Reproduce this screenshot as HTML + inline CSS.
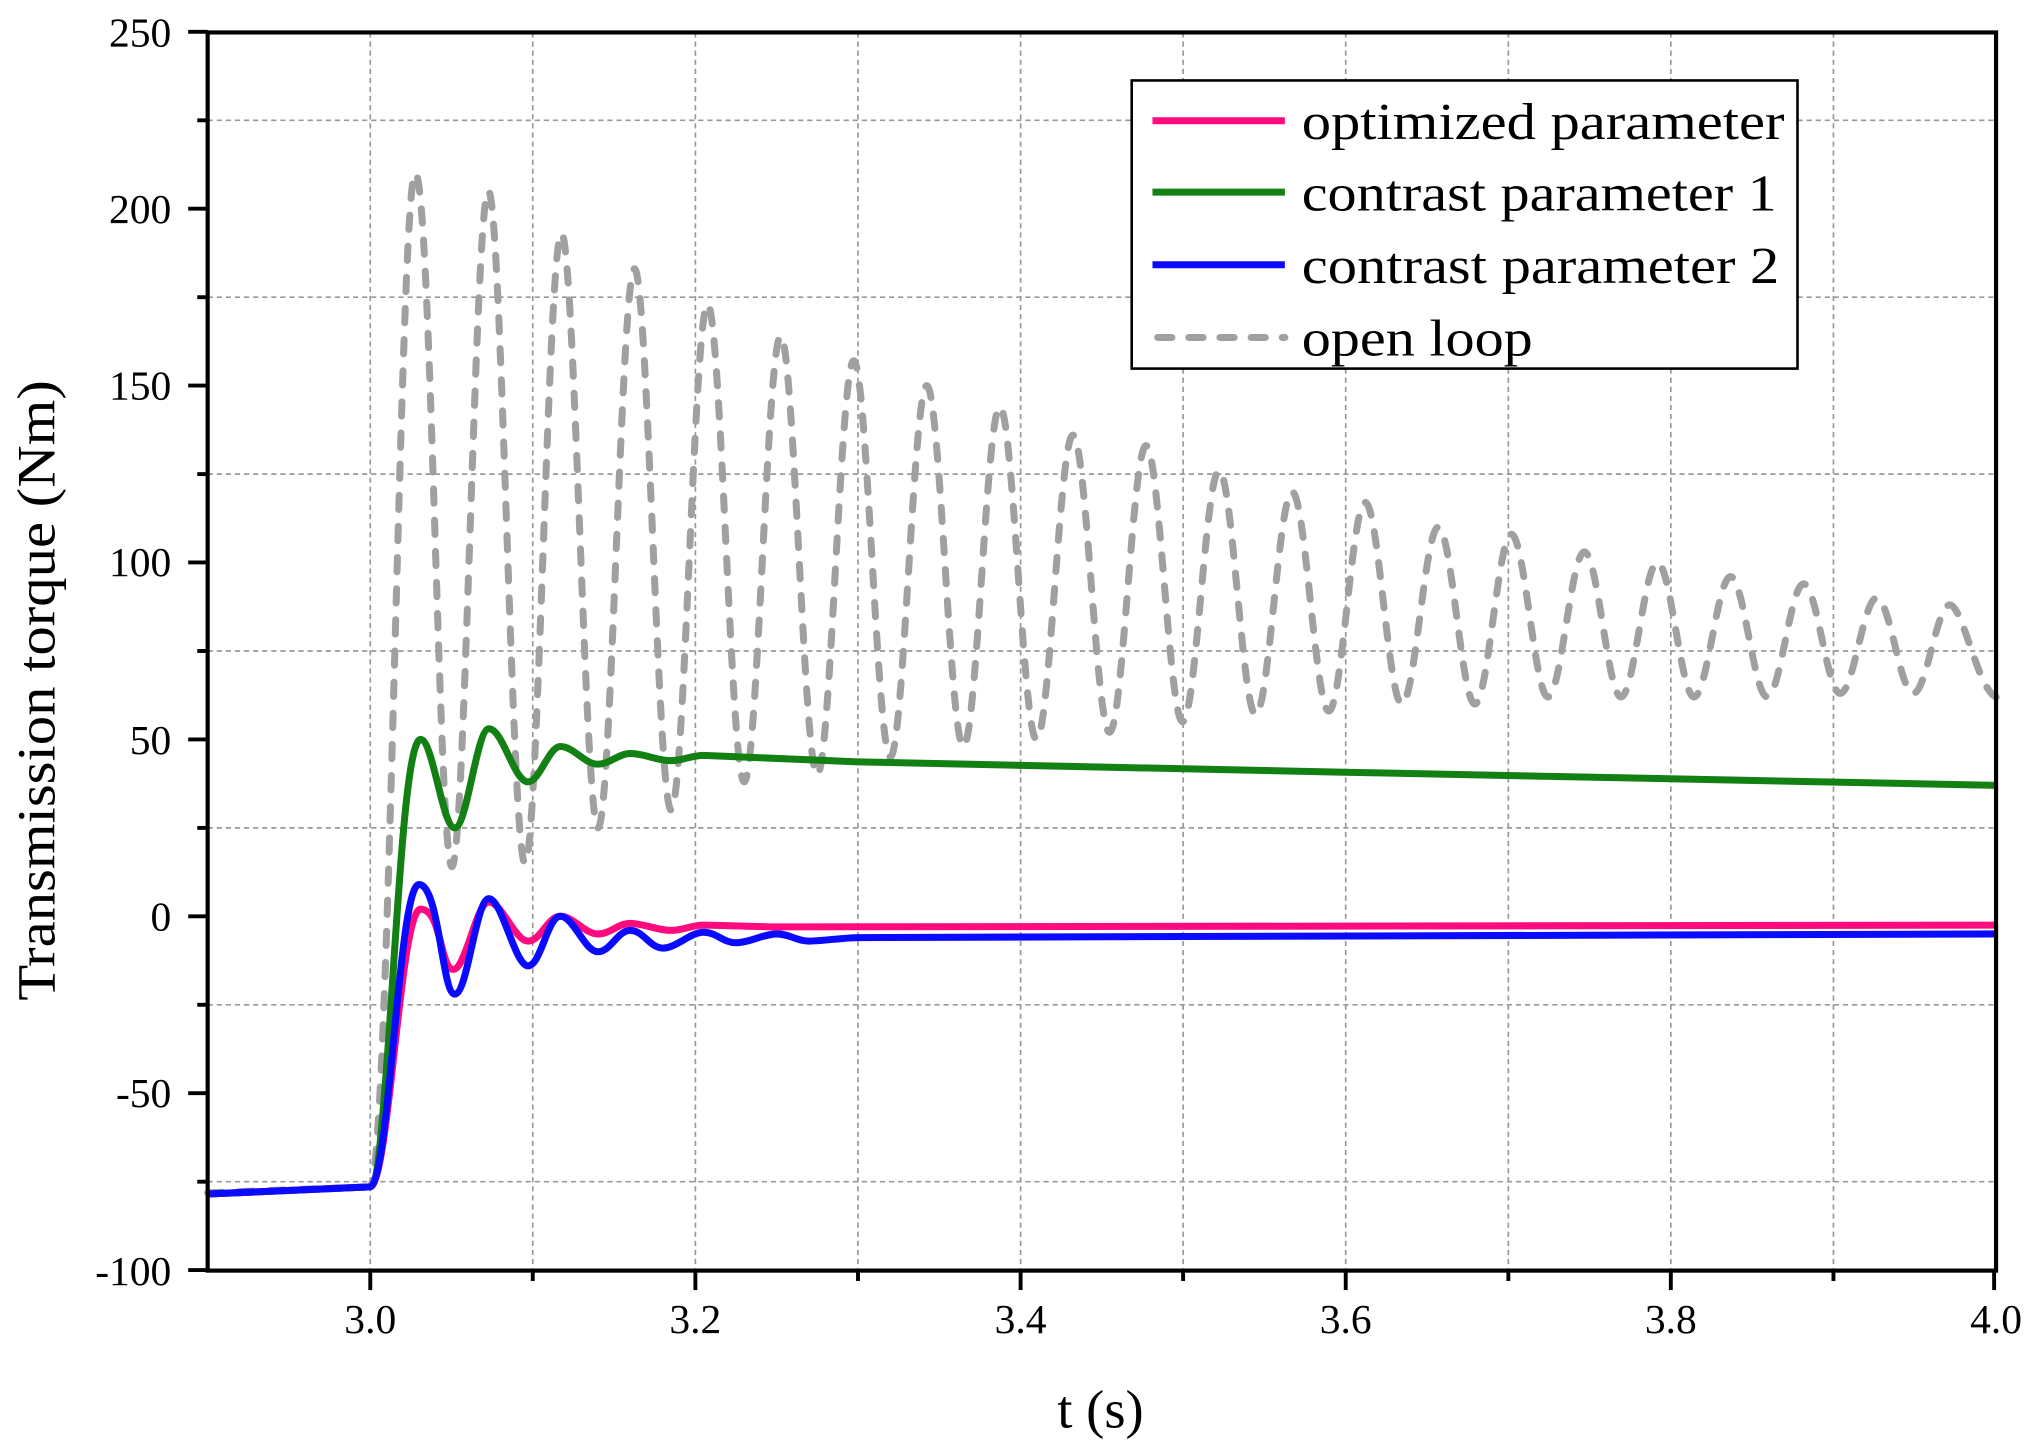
<!DOCTYPE html>
<html><head><meta charset="utf-8"><style>
html,body{margin:0;padding:0;background:#fff;}
svg{display:block;}
text{font-family:"Liberation Serif",serif;}
</style></head><body>
<svg width="2035" height="1451" viewBox="0 0 1568 1118" preserveAspectRatio="none" xmlns="http://www.w3.org/2000/svg">
<g stroke="#999" stroke-width="1.3" stroke-dasharray="4 3">
<line x1="285.3" y1="25" x2="285.3" y2="979"/><line x1="410.5" y1="25" x2="410.5" y2="979"/>
<line x1="535.8" y1="25" x2="535.8" y2="979"/><line x1="661.1" y1="25" x2="661.1" y2="979"/>
<line x1="786.4" y1="25" x2="786.4" y2="979"/><line x1="911.6" y1="25" x2="911.6" y2="979"/>
<line x1="1036.9" y1="25" x2="1036.9" y2="979"/><line x1="1162.2" y1="25" x2="1162.2" y2="979"/>
<line x1="1287.4" y1="25" x2="1287.4" y2="979"/><line x1="1412.7" y1="25" x2="1412.7" y2="979"/>
<line x1="160" y1="92.7" x2="1538" y2="92.7"/><line x1="160" y1="229" x2="1538" y2="229"/>
<line x1="160" y1="365.3" x2="1538" y2="365.3"/><line x1="160" y1="501.6" x2="1538" y2="501.6"/>
<line x1="160" y1="637.9" x2="1538" y2="637.9"/><line x1="160" y1="774.2" x2="1538" y2="774.2"/>
<line x1="160" y1="910.5" x2="1538" y2="910.5"/>
</g>
<g fill="none" stroke-width="5.4">
<path stroke="#a0a0a0" stroke-dasharray="11 13" stroke-linecap="round" d="M160,919 L285,914.5 C300,914 308,133.5 320,133.5
S338.1,667.8 348.2,667.8 S366.2,147.2 376.3,147.2 S394.4,665.1 404.5,665.1 S422.5,179.9 432.6,179.9
S450.7,637.9 460.8,637.9 S478.8,207.1 488.9,207.1 S507,624.2 517.1,624.2 S535.1,234.4 545.2,234.4
S563.3,602.4 573.4,602.4 S591.4,258.9 601.5,258.9 S619.6,597 629.7,597 S647.7,278 657.8,278
S675.9,583.3 686,583.3 S704,297.1 714.1,297.1 S732.2,575.2 742.3,575.2 S760.3,313.5 770.4,313.5
S788.5,569.7 798.6,569.7 S816.6,335.3 826.7,335.3 S844.8,564.2 854.9,564.2 S872.9,343.4 883,343.4
S901.1,556.1 911.2,556.1 S929.2,362.5 939.3,362.5 S957.4,550.6 967.5,550.6 S985.5,378.9 995.6,378.9
S1013.7,547.9 1023.8,547.9 S1041.8,387.1 1051.9,387.1 S1070,542.4 1080.1,542.4 S1098.1,406.1 1108.2,406.1
S1126.3,542.4 1136.4,542.4 S1154.4,411.6 1164.5,411.6 S1182.6,537 1192.7,537 S1210.7,425.2 1220.8,425.2
S1238.9,537 1249,537 S1267,433.4 1277.1,433.4 S1295.2,537 1305.3,537 S1323.3,444.3 1333.4,444.3
S1351.5,537 1361.6,537 S1379.6,449.8 1389.7,449.8 S1407.8,534.3 1417.9,534.3 S1435.9,460.7 1446,460.7
S1464.1,534.3 1474.2,534.3 S1492.2,466.1 1502.3,466.1 S1524,532 1538,537"/>
<path stroke="#128012" d="M160,920 L285,914.5 C300,914 306,569.7 324.1,569.7
C333.6,569.7 340.9,637.9 350.4,637.9 C359.9,637.9 367.2,561.5 376.7,561.5 C387.5,561.5 396,602.4 406.8,602.4
C415.8,602.4 422.8,575.2 431.8,575.2 C442.2,575.2 450.2,588.8 460.6,588.8 C469.6,588.8 476.7,580.6 485.7,580.6
C497,580.6 505.7,586.1 517,586.1 C526,586.1 533.1,582 542.1,582 L661,587 L1036,595 L1538,605.1"/>
<path stroke="#ff0a7f" d="M160,920 L285,914.5 C300,914 308,700.5 324.1,700.5
S339.2,746.9 349.2,746.9 S366.7,695.1 376.7,695.1 S396.8,725.1 406.8,725.1 S421.8,706 431.8,706
S450.6,719.6 460.6,719.6 S475.7,711.5 485.7,711.5 S507,716.9 517,716.9 S532.1,712.8 542.1,712.8
S588.5,714.2 598.5,714.2 L1538,712.8"/>
<path stroke="#0a0aff" d="M160,920 L285,914.5 C300,914 307,681.5 322.8,681.5
S340.4,766 350.4,766 S366.7,692.4 376.7,692.4 S396.8,744.2 406.8,744.2 S421.8,706 431.8,706
S450.6,733.3 460.6,733.3 S475.7,716.9 485.7,716.9 S500.8,730.5 510.8,730.5 S532.1,718.3 542.1,718.3
S557.1,726.4 567.1,726.4 S588.5,719.6 598.5,719.6 S613.5,725.1 623.5,725.1 S651.1,722.4 661.1,722.4 L1538,719.6"/>
</g>
<g stroke="#000" stroke-width="3">
<line x1="285.3" y1="979" x2="285.3" y2="994"/><line x1="410.5" y1="979" x2="410.5" y2="987"/>
<line x1="535.8" y1="979" x2="535.8" y2="994"/><line x1="661.1" y1="979" x2="661.1" y2="987"/>
<line x1="786.4" y1="979" x2="786.4" y2="994"/><line x1="911.6" y1="979" x2="911.6" y2="987"/>
<line x1="1036.9" y1="979" x2="1036.9" y2="994"/><line x1="1162.2" y1="979" x2="1162.2" y2="987"/>
<line x1="1287.4" y1="979" x2="1287.4" y2="994"/><line x1="1412.7" y1="979" x2="1412.7" y2="987"/>
<line x1="1536.5" y1="979" x2="1536.5" y2="994"/>
<line x1="145" y1="24.5" x2="160" y2="24.5"/><line x1="152" y1="92.7" x2="160" y2="92.7"/>
<line x1="145" y1="160.8" x2="160" y2="160.8"/><line x1="152" y1="229" x2="160" y2="229"/>
<line x1="145" y1="297.1" x2="160" y2="297.1"/><line x1="152" y1="365.3" x2="160" y2="365.3"/>
<line x1="145" y1="433.4" x2="160" y2="433.4"/><line x1="152" y1="501.6" x2="160" y2="501.6"/>
<line x1="145" y1="569.7" x2="160" y2="569.7"/><line x1="152" y1="637.9" x2="160" y2="637.9"/>
<line x1="145" y1="706" x2="160" y2="706"/><line x1="152" y1="774.2" x2="160" y2="774.2"/>
<line x1="145" y1="842.3" x2="160" y2="842.3"/><line x1="152" y1="910.5" x2="160" y2="910.5"/>
<line x1="145" y1="978.6" x2="160" y2="978.6"/>
</g>
<rect x="160" y="25" width="1378" height="954" fill="none" stroke="#000" stroke-width="3.2"/>
<g font-size="32" text-anchor="middle">
<text x="285.3" y="1027">3.0</text><text x="535.8" y="1027">3.2</text><text x="786.4" y="1027">3.4</text>
<text x="1036.9" y="1027">3.6</text><text x="1287.4" y="1027">3.8</text><text x="1538" y="1027">4.0</text>
</g>
<g font-size="32" text-anchor="end">
<text x="132" y="36">250</text><text x="132" y="172">200</text><text x="132" y="308">150</text>
<text x="132" y="444">100</text><text x="132" y="581">50</text><text x="132" y="717">0</text>
<text x="132" y="853">-50</text><text x="132" y="990">-100</text>
</g>
<rect x="872" y="62" width="513" height="222" fill="#fff" stroke="#000" stroke-width="2"/>
<line x1="888" y1="93" x2="990" y2="93" stroke="#ff0a7f" stroke-width="5.4"/>
<line x1="888" y1="148" x2="990" y2="148" stroke="#128012" stroke-width="5.4"/>
<line x1="888" y1="204" x2="990" y2="204" stroke="#0a0aff" stroke-width="5.4"/>
<line x1="892" y1="260" x2="990" y2="260" stroke="#a0a0a0" stroke-width="5.4" stroke-dasharray="11 13" stroke-linecap="round"/>
<g font-size="40">
<text x="1003" y="107" textLength="372" lengthAdjust="spacingAndGlyphs">optimized parameter</text>
<text x="1003" y="162" textLength="366" lengthAdjust="spacingAndGlyphs">contrast parameter 1</text>
<text x="1003" y="218" textLength="368" lengthAdjust="spacingAndGlyphs">contrast parameter 2</text>
<text x="1003" y="274" textLength="178" lengthAdjust="spacingAndGlyphs">open loop</text>
</g>
<text x="848" y="1100" font-size="42" text-anchor="middle">t (s)</text>
<text transform="translate(42,532) rotate(-90)" font-size="42" text-anchor="middle" textLength="478" lengthAdjust="spacingAndGlyphs">Transmission torque (Nm)</text>
</svg>
</body></html>
